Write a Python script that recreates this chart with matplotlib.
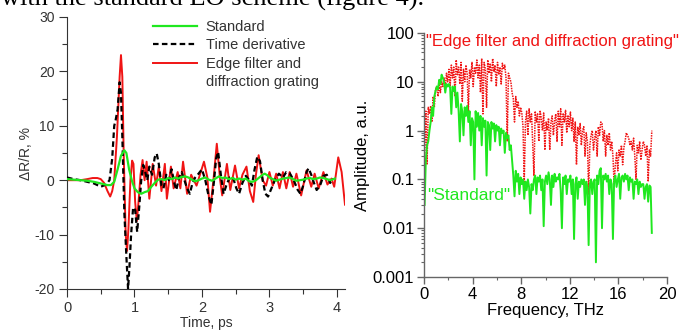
import matplotlib
matplotlib.use('Agg')
import matplotlib.pyplot as plt
import matplotlib.ticker as mtick
import numpy as np

# ---- left panel: time traces (dR/R, %) ----
red_t = [0.00, 0.10, 0.20, 0.30, 0.38, 0.45, 0.50, 0.55, 0.60, 0.64, 0.67, 0.70, 0.74, 0.78, 0.80,
         0.82, 0.84, 0.87, 0.89, 0.91, 0.94, 0.965, 0.985, 1.01, 1.035, 1.06, 1.09, 1.12, 1.15, 1.18,
         1.22, 1.27, 1.32, 1.36, 1.40, 1.45, 1.48, 1.54, 1.58, 1.64, 1.68, 1.72, 1.78, 1.84, 1.92,
         1.97, 2.03, 2.08, 2.12, 2.17, 2.22, 2.27, 2.30, 2.37, 2.42, 2.49, 2.55, 2.60, 2.66, 2.71,
         2.76, 2.80, 2.84, 2.90, 2.95, 3.00, 3.05, 3.10, 3.15, 3.20, 3.25, 3.30, 3.35, 3.40, 3.47,
         3.55, 3.62, 3.67, 3.73, 3.80, 3.86, 3.92, 3.96, 4.02, 4.07, 4.12]
red_v = [0.0, 0.0, 0.0, 0.2, 0.4, 0.4, 0.2, -0.5, -2.0, -3.0, -2.0, 0.0, 8.0, 19.0, 23.0,
         19.0, 5.0, -10.0, -13.0, -9.0, 0.0, 3.6, 3.0, -4.0, -7.5, -4.0, 1.0, 3.7, 0.0, 3.4,
         -3.4, 3.0, -1.0, 2.5, -2.0, 3.0, -3.4, 2.5, -1.5, 1.5, -1.5, 3.4, -2.5, 1.0, -1.0,
         1.0, 3.4, 0.5, -5.8, 0.0, 6.7, 0.0, -2.8, 3.0, -1.8, 2.7, -1.5, 1.0, 2.5, -2.0,
         -4.0, 1.0, 4.6, 0.0, -1.0, 1.5, -1.0, 1.2, -1.5, 1.5, -1.5, 1.5, -1.2, 1.2, -2.8,
         1.8, -1.2, 1.2, -1.5, 1.5, -0.8, 0.3, -1.2, 4.2, 1.5, -4.5]

blk_t = [0.00, 0.10, 0.20, 0.30, 0.40, 0.50, 0.58, 0.63, 0.67, 0.70, 0.72, 0.75, 0.78, 0.80, 0.82,
         0.85, 0.88, 0.905, 0.925, 0.95, 0.98, 1.01, 1.04, 1.07, 1.10, 1.13, 1.16, 1.19, 1.22, 1.26,
         1.30, 1.33, 1.36, 1.40, 1.43, 1.47, 1.51, 1.55, 1.59, 1.62, 1.66, 1.70, 1.74, 1.78, 1.82,
         1.86, 1.90, 1.95, 2.00, 2.05, 2.10, 2.14, 2.18, 2.21, 2.24, 2.28, 2.32, 2.36, 2.41, 2.46,
         2.51, 2.55, 2.60, 2.65, 2.70, 2.74, 2.78, 2.82, 2.86, 2.90, 2.94, 2.98, 3.03, 3.08, 3.14,
         3.20, 3.25, 3.30, 3.36, 3.42, 3.46, 3.50, 3.55, 3.58, 3.62, 3.66, 3.70, 3.75, 3.80, 3.85,
         3.90, 3.95]
blk_v = [0.5, 0.2, 0.0, -0.3, -0.6, -1.2, -0.8, 0.0, 4.0, 10.0, 11.0, 13.0, 18.0, 16.0, 8.0,
         -6.0, -14.0, -20.0, -16.0, -10.0, -5.0, -5.5, -9.5, -5.0, 0.0, 2.8, 1.5, 0.0, 2.5, 1.0,
         4.2, 4.9, 3.0, -1.0, -1.5, 1.0, 0.0, 2.0, -0.5, -1.8, 0.5, 1.5, 0.0, -1.5, -2.5,
         -0.5, 0.5, 1.2, 2.0, 0.0, -3.0, -4.5, 0.0, 4.0, 5.2, 1.0, -2.5, -1.0, 0.5, 0.5,
         -1.5, -2.5, -0.5, 0.8, 0.0, -1.0, 2.0, 4.3, 3.5, 0.0, -2.5, -3.0, -1.5, 0.0, 1.2,
         0.5, 1.5, 1.3, 0.0, -1.8, -2.5, -1.0, 1.5, 2.2, 1.0, -0.5, -1.8, -1.0, 0.8, 1.0,
         -0.5, 0.3]

grn_t = [0.00, 0.10, 0.20, 0.30, 0.40, 0.50, 0.60, 0.65, 0.70, 0.75, 0.80, 0.85, 0.88, 0.92, 0.96,
         1.00, 1.05, 1.10, 1.15, 1.20, 1.25, 1.30, 1.35, 1.40, 1.45, 1.50, 1.55, 1.60, 1.65, 1.70,
         1.75, 1.80, 1.85, 1.90, 1.95, 2.00, 2.05, 2.10, 2.15, 2.20, 2.25, 2.30, 2.35, 2.40, 2.45,
         2.50, 2.55, 2.60, 2.65, 2.70, 2.75, 2.80, 2.85, 2.90, 2.93, 2.97, 3.00, 3.05, 3.10, 3.15,
         3.20, 3.25, 3.30, 3.35, 3.40, 3.45, 3.50, 3.55, 3.60, 3.65, 3.70, 3.75, 3.80, 3.85, 3.90,
         3.95, 3.97]
grn_v = [0.2, 0.1, 0.0, -0.1, -0.3, -0.6, -0.9, -0.9, -0.3, 2.0, 4.5, 5.5, 5.0, 2.0, 0.0,
         -1.5, -2.2, -2.5, -2.2, -2.0, -1.2, -0.5, 0.1, 0.2, 0.0, 0.4, 0.2, 0.5, 0.3, 0.6,
         0.7, 0.5, 0.1, -0.2, 0.0, 0.3, 0.5, 0.1, -0.1, 0.3, 0.7, 0.4, 0.5, 0.2, 0.4,
         0.1, 0.3, 0.1, 0.3, -0.2, -0.3, 0.0, 0.5, 1.0, 1.2, 0.9, 0.5, 0.2, -0.1, 0.1,
         0.3, 0.4, 0.5, 0.2, -0.1, 0.0, 0.1, 0.3, 0.4, 0.2, 0.3, 0.5, 0.4, 0.2, 0.0,
         0.2, 0.3]

# ---- right panel: amplitude spectra, sampled every 0.1 THz from 0.05 THz ----
freq = np.arange(188) * 0.1 + 0.05
amp_std = [0.03, 0.25, 0.5, 0.6, 1.0, 1.5, 3.0, 2.0, 5.0, 6.5,
           8, 7, 11, 9, 14, 12, 10, 6, 9, 8,
           9, 7.5, 2.2, 8, 6.5, 8, 3, 6, 2.5, 0.6,
           3.5, 2.5, 0.8, 3, 2, 3.2, 1.5, 2.5, 0.5, 1.8,
           1.5, 0.1, 2.5, 1.2, 2.3, 1.0, 2.0, 0.5, 1.8, 1.2,
           1.6, 0.12, 1.5, 1.3, 0.4, 1.5, 1.1, 1.4, 0.6, 1.3,
           1.0, 1.2, 0.5, 1.1, 0.9, 1.0, 0.35, 0.9, 0.7, 0.8,
           0.4, 0.5, 0.25, 0.12, 0.045, 0.15, 0.09, 0.13, 0.05, 0.11,
           0.08, 0.1, 0.04, 0.09, 0.06, 0.1, 0.07, 0.02, 0.08, 0.06,
           0.1, 0.12, 0.05, 0.11, 0.09, 0.12, 0.06, 0.1, 0.011, 0.09,
           0.12, 0.08, 0.14, 0.1, 0.03, 0.12, 0.07, 0.13, 0.09, 0.11,
           0.1, 0.13, 0.06, 0.01, 0.11, 0.08, 0.12, 0.05, 0.1, 0.09,
           0.12, 0.05, 0.1, 0.006, 0.08, 0.11, 0.04, 0.09, 0.07, 0.1,
           0.08, 0.1, 0.03, 0.09, 0.07, 0.0045, 0.08, 0.1, 0.05, 0.09,
           0.1, 0.002, 0.12, 0.08, 0.15, 0.17, 0.01, 0.12, 0.1, 0.13,
           0.09, 0.12, 0.05, 0.1, 0.08, 0.006, 0.1, 0.12, 0.07, 0.1,
           0.13, 0.04, 0.11, 0.12, 0.09, 0.13, 0.1, 0.12, 0.06, 0.11,
           0.09, 0.1, 0.04, 0.09, 0.08, 0.1, 0.05, 0.09, 0.07, 0.08,
           0.08, 0.04, 0.07, 0.08, 0.035, 0.075, 0.07, 0.008]
amp_edge = [0.3, 2.5, 0.2, 3, 2.2, 3.2, 1.5, 5, 3, 7,
            8, 5, 9, 6, 10, 8, 12, 7, 15, 10,
            18, 8, 22, 12, 20, 5, 28, 14, 20, 9,
            25, 4, 18, 10, 22, 15, 2.5, 18, 12, 25,
            8, 20, 15, 28, 12, 22, 6, 30, 2.2, 25,
            18, 3, 28, 15, 24, 10, 30, 16, 22, 8,
            25, 14, 20, 9, 24, 18, 22, 12, 0.6, 15,
            12, 10, 6, 4.5, 1.5, 5, 3, 4, 2, 3,
            2.3, 1.2, 0.085, 1.5, 2.5, 0.8, 2.8, 1.5, 2.2, 0.5,
            0.12, 2.5, 1.5, 2.2, 0.6, 2.6, 1.8, 1.0, 2.3, 0.4,
            1.5, 1.0, 1.8, 0.4, 1.5, 2.0, 0.8, 1.6, 2.2, 0.6,
            2.5, 1.2, 2.8, 0.5, 2.2, 1.5, 2.6, 0.9, 2.0, 1.2,
            2.4, 1.0, 1.8, 0.6, 1.5, 0.2, 1.2, 0.8, 1.4, 0.5,
            1.0, 1.2, 0.3, 0.9, 0.6, 0.05, 0.5, 0.8, 1.0, 0.4,
            0.7, 1.0, 0.3, 1.2, 0.8, 1.5, 1.4, 0.6, 1.0, 0.3,
            0.8, 0.5, 0.9, 0.4, 0.6, 0.3, 0.08, 0.2, 0.35, 0.15,
            0.4, 0.3, 0.5, 0.2, 0.45, 0.6, 0.9, 0.8, 0.7, 0.5,
            0.6, 0.4, 0.7, 0.3, 0.1, 0.5, 0.35, 0.6, 0.25, 0.4,
            0.6, 0.5, 0.3, 0.5, 0.09, 0.4, 0.3, 1.0]

GREEN = '#1fe81f'
RED = '#f01414'

plt.rcParams['font.family'] = ['Liberation Sans', 'DejaVu Sans']
plt.rcParams['axes.unicode_minus'] = False

fig = plt.figure(figsize=(6.91, 3.33), dpi=100)

# cut-off line of the paper text above the figure
fig.text(1 / 691, 1 - 6 / 333, 'with the standard EO scheme (figure 4).', family='Liberation Serif',
         fontsize=19, va='baseline', ha='left', color='black')

# ---------- left ----------
ax1 = fig.add_axes([67 / 691, 1 - 289 / 333, 278 / 691, 272 / 333])
ax1.plot(grn_t, grn_v, color=GREEN, lw=1.6, label='Standard', zorder=4)
ax1.plot(blk_t, blk_v, color='black', lw=1.6, ls=(0, (2.5, 1.5)), label='Time derivative', zorder=3)
ax1.plot(red_t, red_v, color=RED, lw=1.4, label='Edge filter and', zorder=2)
ax1.plot([], [], color='none', label='diffraction grating')  # second line of the red label

ax1.set_xlim(0, 4.12)
ax1.set_ylim(-20, 30)
ax1.set_yticks([-20, -10, 0, 10, 20, 30])
ax1.set_xticks([0, 1, 2, 3, 4])
ax1.xaxis.set_minor_locator(mtick.MultipleLocator(0.5))
ax1.yaxis.set_minor_locator(mtick.MultipleLocator(5))
for s in ['top', 'right']:
    ax1.spines[s].set_visible(False)
for s in ['left', 'bottom']:
    ax1.spines[s].set_color('#333333')
    ax1.spines[s].set_linewidth(0.8)
ax1.tick_params(which='major', direction='out', length=6, width=0.8, color='#333333', labelcolor='#333333')
ax1.tick_params(which='minor', direction='out', length=3.5, width=0.8, color='#333333')
ax1.tick_params(axis='y', labelsize=10, pad=3)
ax1.tick_params(axis='x', labelsize=10.5, pad=3)
ax1.set_xlabel('Time, ps', fontsize=10, color='#333333', labelpad=0)
ax1.set_ylabel('\u0394R/R, %', fontsize=10, color='#333333', labelpad=1)

ax1.legend(loc='upper left', bbox_to_anchor=(153 / 691, 1 - 20 / 333), bbox_transform=fig.transFigure,
           frameon=False, fontsize=10.5, handlelength=3.0, handletextpad=0.62, borderpad=0,
           borderaxespad=0, labelspacing=0.3, labelcolor='#333333')

# ---------- right ----------
ax2 = fig.add_axes([424 / 691, 1 - 277 / 333, 243 / 691, 244 / 333])
ax2.plot(freq, amp_edge, color=RED, lw=1.1, ls=(0, (1, 0.7)))
ax2.plot(freq, amp_std, color=GREEN, lw=1.4)
ax2.set_yscale('log')
ax2.set_ylim(0.001, 100)
ax2.set_xlim(0, 20)
ax2.set_xticks([0, 4, 8, 12, 16, 20])
ax2.xaxis.set_minor_locator(mtick.MultipleLocator(2))
ax2.set_yticks([0.001, 0.01, 0.1, 1, 10, 100])
ax2.set_yticklabels(['0.001', '0.01', '0.1', '1', '10', '100'])
ax2.yaxis.set_minor_locator(mtick.LogLocator(base=10, subs=np.arange(2, 10)))
ax2.yaxis.set_minor_formatter(mtick.NullFormatter())
for s in ['top', 'right']:
    ax2.spines[s].set_visible(False)
for s in ['left', 'bottom']:
    ax2.spines[s].set_color('#666666')
    ax2.spines[s].set_linewidth(1.0)
ax2.tick_params(which='major', direction='out', length=5, width=1.0, color='#666666', labelsize=12, pad=2)
ax2.tick_params(which='minor', direction='out', length=2.5, width=0.8, color='#666666')
ax2.set_xlabel('Frequency, THz', fontsize=12, labelpad=1)
ax2.set_ylabel('Amplitude, a.u.', fontsize=12, labelpad=2)

ax2.text(0.01, 0.965, '"Edge filter and diffraction grating"', transform=ax2.transAxes,
         color=RED, fontsize=12, va='center', ha='left')
ax2.text(0.013, 0.335, '"Standard"', transform=ax2.transAxes,
         color=GREEN, fontsize=12.5, va='center', ha='left')

fig.savefig('out.png', dpi=100)
